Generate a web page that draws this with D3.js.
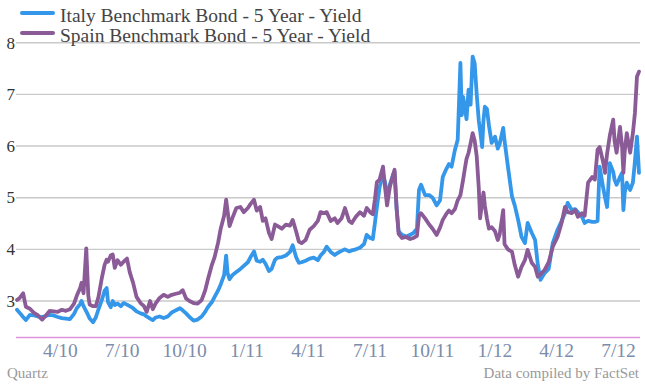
<!DOCTYPE html>
<html>
<head>
<meta charset="utf-8">
<script src="https://cdn.jsdelivr.net/npm/d3@7"></script>
<style>
  html, body { margin: 0; padding: 0; background: #fff; }
  svg { display: block; font-family: "Liberation Serif", "DejaVu Serif", serif; }
</style>
</head>
<body>
<svg id="chart" width="645" height="385"></svg>
<script>
const seriesNames = ["Italy Benchmark Bond - 5 Year - Yield", "Spain Benchmark Bond - 5 Year - Yield"];
const seriesColors = ["#3597ea", "#8a5b97"];
const yTicks = [3, 4, 5, 6, 7, 8];
const xTickDates = ["2010-04-01","2010-07-01","2010-10-01","2011-01-01","2011-04-01","2011-07-01","2011-10-01","2012-01-01","2012-04-01","2012-07-01"];
const xTickLabels = ["4/10","7/10","10/10","1/11","4/11","7/11","10/11","1/12","4/12","7/12"];

const dates = [
"2010-01-25","2010-01-29","2010-02-03","2010-02-07","2010-02-13","2010-02-19","2010-02-25","2010-03-03","2010-03-08","2010-03-14",
"2010-03-20","2010-03-26","2010-04-01","2010-04-07","2010-04-13","2010-04-19","2010-04-23","2010-04-28","2010-04-30","2010-05-03",
"2010-05-07","2010-05-10","2010-05-12","2010-05-17","2010-05-21","2010-05-25","2010-05-30","2010-06-03","2010-06-06","2010-06-08",
"2010-06-12","2010-06-15","2010-06-18","2010-06-22","2010-06-27","2010-07-01","2010-07-06","2010-07-10","2010-07-15","2010-07-20",
"2010-07-26","2010-07-31","2010-08-04","2010-08-09","2010-08-13","2010-08-17","2010-08-23","2010-08-29","2010-09-04","2010-09-10",
"2010-09-16","2010-09-22","2010-09-26","2010-10-01","2010-10-06","2010-10-12","2010-10-18","2010-10-24","2010-10-29","2010-11-02",
"2010-11-08","2010-11-12","2010-11-17","2010-11-21","2010-11-26","2010-11-29","2010-12-01","2010-12-04","2010-12-08","2010-12-14",
"2010-12-20","2010-12-25","2010-12-31","2011-01-04","2011-01-09","2011-01-13","2011-01-18","2011-01-22","2011-01-26","2011-01-31",
"2011-02-04","2011-02-09","2011-02-13","2011-02-19","2011-02-25","2011-03-03","2011-03-07","2011-03-12","2011-03-16","2011-03-20",
"2011-03-26","2011-04-01","2011-04-07","2011-04-13","2011-04-17","2011-04-22","2011-04-26","2011-05-02","2011-05-08","2011-05-12",
"2011-05-18","2011-05-23","2011-05-29","2011-06-02","2011-06-08","2011-06-14","2011-06-20","2011-06-24","2011-06-29","2011-07-03",
"2011-07-06","2011-07-09","2011-07-13","2011-07-18","2011-07-21","2011-07-24","2011-07-28","2011-08-02","2011-08-04","2011-08-07",
"2011-08-10","2011-08-15","2011-08-21","2011-08-27","2011-09-01","2011-09-06","2011-09-09","2011-09-12","2011-09-18","2011-09-24",
"2011-09-29","2011-10-05","2011-10-10","2011-10-14","2011-10-19","2011-10-23","2011-10-27","2011-11-01","2011-11-05","2011-11-09",
"2011-11-11","2011-11-13","2011-11-16","2011-11-18","2011-11-21","2011-11-24","2011-11-27","2011-11-30","2011-12-03","2011-12-06",
"2011-12-08","2011-12-11","2011-12-13","2011-12-15","2011-12-18","2011-12-21","2011-12-25","2011-12-30","2012-01-03","2012-01-06",
"2012-01-11","2012-01-13","2012-01-18","2012-01-24","2012-01-28","2012-02-02","2012-02-07","2012-02-12","2012-02-16","2012-02-22",
"2012-02-27","2012-03-02","2012-03-06","2012-03-12","2012-03-18","2012-03-24","2012-03-31","2012-04-06","2012-04-11","2012-04-15",
"2012-04-21","2012-04-26","2012-04-30","2012-05-06","2012-05-10","2012-05-15","2012-05-21","2012-05-25","2012-05-29","2012-06-01",
"2012-06-06","2012-06-09","2012-06-12","2012-06-16","2012-06-21","2012-06-23","2012-06-26","2012-07-01","2012-07-04","2012-07-06",
"2012-07-08","2012-07-11","2012-07-16","2012-07-20","2012-07-23","2012-07-26","2012-07-29"
];

const italy = [
2.83,2.77,2.69,2.63,2.73,2.72,2.70,2.69,2.71,2.73,
2.72,2.69,2.67,2.66,2.65,2.75,2.86,2.94,3.00,2.90,
2.80,2.72,2.66,2.59,2.68,2.84,3.02,3.20,3.25,2.98,
2.88,3.00,2.92,2.95,2.90,2.96,2.93,2.90,2.86,2.80,
2.76,2.74,2.70,2.66,2.63,2.68,2.70,2.67,2.70,2.78,
2.82,2.86,2.82,2.76,2.69,2.62,2.64,2.70,2.79,2.88,
2.98,3.08,3.20,3.32,3.50,3.88,3.55,3.42,3.50,3.56,
3.62,3.68,3.75,3.85,3.96,3.78,3.76,3.80,3.72,3.58,
3.62,3.80,3.84,3.85,3.88,3.95,4.08,3.85,3.74,3.75,
3.78,3.82,3.84,3.79,3.88,3.95,4.05,3.95,3.89,3.93,
3.97,4.00,3.96,3.98,4.00,4.03,4.10,4.28,4.22,4.20,
4.50,4.82,5.20,5.45,5.30,5.00,5.25,5.45,5.50,4.80,
4.35,4.28,4.25,4.28,4.32,4.40,5.15,5.25,5.05,5.05,
5.00,4.85,4.95,5.40,5.55,5.65,5.60,5.93,6.12,7.61,
6.60,6.95,6.70,6.52,7.09,6.80,7.73,7.60,7.00,6.50,
6.30,5.98,6.50,6.76,6.72,6.40,6.06,6.18,5.95,6.05,
6.35,6.10,5.60,5.02,4.85,4.57,4.24,4.12,4.51,4.32,
4.18,3.70,3.41,3.54,3.62,4.12,4.38,4.55,4.70,4.90,
4.76,4.78,4.72,4.63,4.51,4.55,4.53,4.53,4.55,5.60,
5.21,5.00,4.82,5.67,5.50,5.35,5.25,5.40,5.48,4.76,
5.10,5.29,5.15,5.29,5.70,6.18,5.48
];

const spain = [
3.02,3.06,3.15,2.89,2.85,2.77,2.72,2.64,2.71,2.81,
2.80,2.79,2.83,2.81,2.84,2.95,3.10,3.25,3.35,3.15,
4.02,3.10,2.93,2.90,2.90,3.08,3.45,3.70,3.80,3.76,
3.88,3.90,3.64,3.79,3.70,3.76,3.82,3.56,3.35,3.08,
2.96,2.90,2.79,3.00,2.84,2.95,3.06,3.12,3.08,3.12,
3.14,3.16,3.21,3.05,3.00,2.96,2.95,3.02,3.20,3.41,
3.70,3.85,4.12,4.40,4.65,4.96,4.75,4.45,4.60,4.80,
4.82,4.72,4.80,4.88,4.96,4.75,4.82,4.55,4.60,4.32,
4.20,4.48,4.45,4.40,4.48,4.46,4.57,4.35,4.15,4.12,
4.18,4.38,4.45,4.55,4.72,4.70,4.72,4.55,4.60,4.51,
4.60,4.80,4.55,4.51,4.63,4.72,4.65,4.80,4.72,4.68,
4.96,5.30,5.35,5.60,5.20,4.85,5.20,5.45,5.54,4.80,
4.30,4.22,4.24,4.20,4.22,4.26,4.65,4.70,4.60,4.48,
4.40,4.28,4.42,4.57,4.68,4.75,4.70,4.78,4.95,5.05,
5.20,5.35,5.60,5.75,5.87,6.05,6.25,6.10,5.80,5.20,
4.60,4.90,5.10,4.85,4.60,4.40,4.43,4.35,4.18,4.30,
4.76,4.10,4.00,3.95,3.70,3.47,3.66,3.79,3.99,3.74,
3.66,3.47,3.52,3.60,3.75,4.05,4.24,4.51,4.82,4.72,
4.70,4.76,4.63,4.70,4.65,5.29,5.40,5.35,5.93,5.98,
5.70,5.48,5.85,6.20,6.51,6.10,5.87,6.37,6.00,5.48,
5.90,6.25,5.87,6.25,6.64,7.34,7.44
];

const parse = d3.timeParse("%Y-%m-%d");
const series = [italy, spain].map((vals, i) => ({
  name: seriesNames[i],
  color: seriesColors[i],
  values: dates.map((d, j) => ({ date: parse(d), value: vals[j] }))
}));

const svg = d3.select("#chart");

const x = d3.scaleTime()
  .domain(d3.extent(dates, parse))
  .range([17, 639]);

const y = d3.scaleLinear()
  .domain([3, 8])
  .range([301, 42.7]);

// grid lines
svg.append("g")
  .selectAll("line")
  .data(yTicks)
  .join("line")
  .attr("x1", 16)
  .attr("x2", 640)
  .attr("y1", d => y(d))
  .attr("y2", d => y(d))
  .attr("stroke", "#c9c9c9")
  .attr("stroke-width", 1.4);

// y labels
svg.append("g")
  .selectAll("text")
  .data(yTicks)
  .join("text")
  .attr("x", 15)
  .attr("y", d => y(d) + 5.8)
  .attr("text-anchor", "end")
  .attr("font-size", 17)
  .attr("fill", "#333")
  .text(d => d);

// baseline
svg.append("line")
  .attr("x1", 16).attr("x2", 640)
  .attr("y1", 337.5).attr("y2", 337.5)
  .attr("stroke", "#de92de")
  .attr("stroke-width", 1.4);

// x axis labels
const xAxis = d3.axisBottom(x)
  .tickValues(xTickDates.map(parse))
  .tickFormat((d, i) => xTickLabels[i])
  .tickSize(0)
  .tickPadding(0);

const gx = svg.append("g")
  .attr("transform", "translate(0,342)")
  .call(xAxis);
gx.select(".domain").remove();
gx.selectAll("text")
  .attr("dy", null)
  .attr("y", 14.7)
  .attr("dx", -2)
  .attr("font-size", 19.5)
  .attr("font-family", "Liberation Serif, DejaVu Serif, serif")
  .attr("fill", "#7c8cab");

// lines
const line = d3.line()
  .x(d => x(d.date))
  .y(d => y(d.value))
  .curve(d3.curveLinear);

svg.append("g")
  .selectAll("path")
  .data(series)
  .join("path")
  .attr("d", d => line(d.values))
  .attr("fill", "none")
  .attr("stroke", d => d.color)
  .attr("stroke-width", 3.8)
  .attr("stroke-linejoin", "round")
  .attr("stroke-linecap", "round");

// legend
const legend = svg.append("g")
  .selectAll("g")
  .data(series)
  .join("g")
  .attr("transform", (d, i) => `translate(0,${13 + i * 20})`);
legend.append("line")
  .attr("x1", 22).attr("x2", 53)
  .attr("y1", 0).attr("y2", 0)
  .attr("stroke", d => d.color)
  .attr("stroke-width", 4)
  .attr("stroke-linecap", "round");
legend.append("text")
  .attr("x", 60)
  .attr("y", 8.5)
  .attr("font-size", 19.5)
  .attr("fill", "#444")
  .text(d => d.name);

// footer
svg.append("text")
  .attr("x", 7).attr("y", 378)
  .attr("font-size", 15)
  .attr("fill", "#999")
  .text("Quartz");
svg.append("text")
  .attr("x", 639).attr("y", 378)
  .attr("text-anchor", "end")
  .attr("font-size", 15)
  .attr("fill", "#999")
  .text("Data compiled by FactSet");
</script>
</body>
</html>
